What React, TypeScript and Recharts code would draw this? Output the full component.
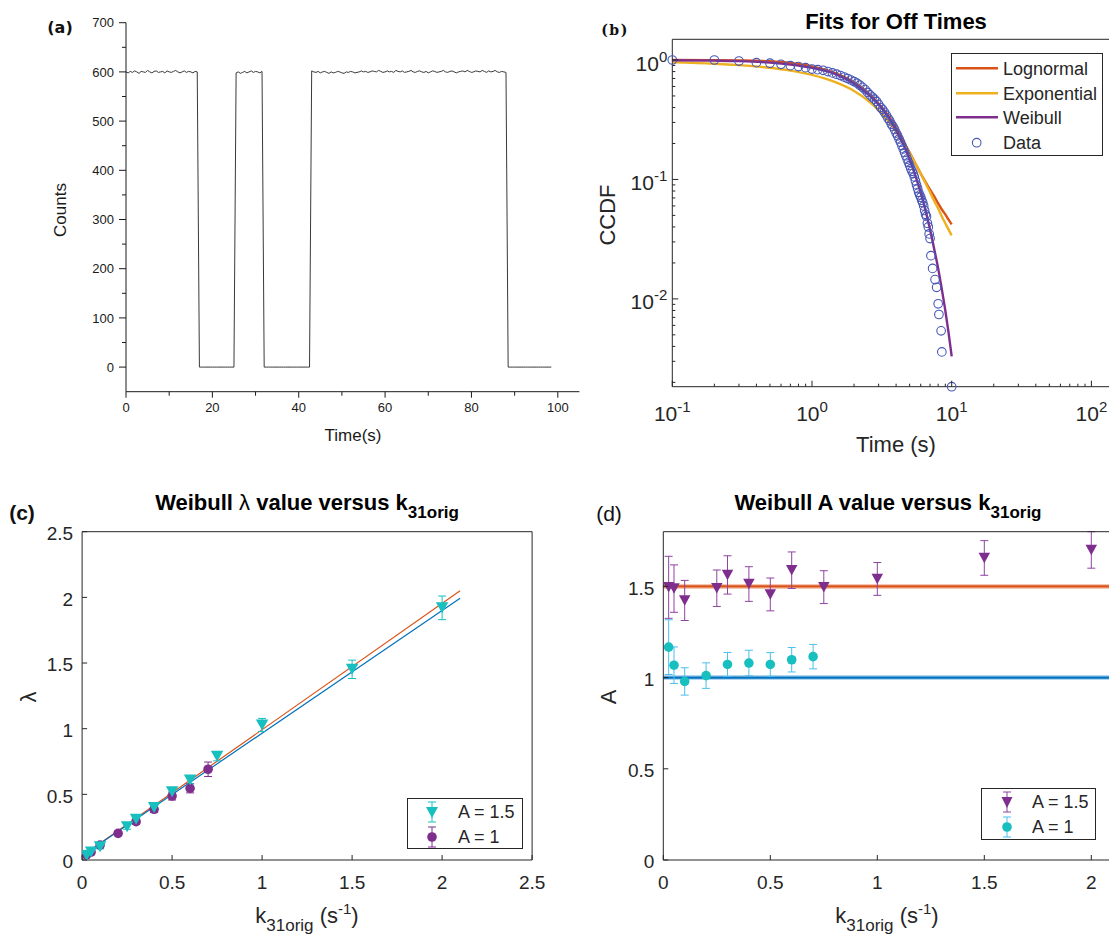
import React from "react";
import { ComposedChart, Line, Scatter, XAxis, YAxis, ErrorBar, ReferenceLine } from "recharts";

const SANS = '"Liberation Sans", Arial, Helvetica, sans-serif';
const INK = "#262626";

// ---------- (a) intensity trace, one sample every 0.5 s ----------
const SAMPLE_DT = 0.5;
const traceCounts = [
  600, 598, 601, 599, 602, 600, 597, 601, 600, 599,
  603, 600, 598, 601, 602, 599, 600, 601, 598, 602,
  600, 599, 601, 603, 600, 598, 600, 602, 599, 601,
  600, 598, 601, 600,
  0, 0, 0, 0, 0, 0, 0, 0, 0, 0, 0, 0, 0, 0, 0, 0, 0,
  598, 600, 597, 599, 601, 598, 600, 602, 599, 601, 600, 598, 601,
  0, 0, 0, 0, 0, 0, 0, 0, 0, 0, 0, 0, 0, 0, 0, 0, 0, 0, 0, 0, 0, 0,
  602, 600, 599, 601, 598, 600, 601, 599, 597, 600,
  598, 599, 601, 600, 598, 597, 600, 599, 601, 600,
  598, 599, 600, 602, 600, 601, 599, 600, 602, 601,
  600, 603, 601, 599, 600, 602, 600, 601, 599, 603,
  601, 600, 602, 599, 600, 601, 603, 600, 599, 601,
  602, 600, 599, 601, 598, 600, 602, 601, 599, 600,
  601, 603, 600, 599, 601, 602, 600, 598, 600, 601,
  602, 600, 603, 601, 599, 600, 602, 601, 600, 603,
  601, 599, 602, 600, 601, 603, 600, 599, 601, 600,
  599,
  0, 0, 0, 0, 0, 0, 0, 0, 0, 0, 0, 0, 0, 0, 0, 0, 0, 0, 0, 0, 0,
];
const traceXTicks = [0, 10, 20, 30, 40, 50, 60, 70, 80, 90, 100];
const traceYTicks = [0, 50, 100, 150, 200, 250, 300, 350, 400, 450, 500, 550, 600, 650, 700];

// ---------- (b) CCDF of off times ----------
const ccdfTimes = [
  0.1, 0.2, 0.3, 0.4, 0.5, 0.6, 0.7, 0.8, 0.9, 1.0,
  1.1, 1.2, 1.3, 1.4, 1.5, 1.6, 1.7, 1.8, 1.9, 2.0,
  2.1, 2.2, 2.3, 2.4, 2.5, 2.6, 2.7, 2.8, 2.9, 3.0,
  3.1, 3.2, 3.3, 3.4, 3.5, 3.6, 3.7, 3.8, 3.9, 4.0,
  4.1, 4.2, 4.3, 4.4, 4.5, 4.6, 4.7, 4.8, 4.9, 5.0,
  5.1, 5.2, 5.3, 5.4, 5.5, 5.6, 5.7, 5.8, 5.9, 6.0,
  6.1, 6.2, 6.3, 6.4, 6.5, 6.6, 6.7, 6.8, 6.9, 7.0,
  7.1, 7.3, 7.6, 7.8, 8.0, 8.1, 8.4, 8.5, 10,
];
const ccdfValues = [
  1.0, 1.0, 0.98, 0.95, 0.94, 0.92, 0.896, 0.88, 0.862, 0.84,
  0.83, 0.82, 0.8, 0.78, 0.76, 0.74, 0.72, 0.7, 0.68, 0.66,
  0.64, 0.615, 0.59, 0.565, 0.535, 0.51, 0.49, 0.47, 0.45, 0.425,
  0.4, 0.385, 0.365, 0.345, 0.325, 0.31, 0.29, 0.278, 0.262, 0.245,
  0.232, 0.218, 0.205, 0.192, 0.18, 0.168, 0.158, 0.148, 0.139, 0.131,
  0.123, 0.117, 0.112, 0.105, 0.097, 0.09, 0.084, 0.078, 0.074, 0.071,
  0.067, 0.064, 0.06, 0.055, 0.051, 0.049, 0.043, 0.04, 0.035, 0.032,
  0.023, 0.018, 0.0145, 0.0125, 0.0091, 0.0074, 0.0054, 0.0036, 0.00184,
];
const fitTimes = [0.1, 0.2, 0.3, 0.5, 0.7, 1, 1.5, 2, 2.5, 3, 3.5, 4, 4.5, 5, 5.5, 6, 6.5, 7, 7.5, 8, 8.5, 9, 9.5, 10];
const lognormalFit = [1.0, 0.998, 0.993, 0.975, 0.945, 0.885, 0.77, 0.65, 0.535, 0.43, 0.345, 0.27, 0.21, 0.168, 0.136, 0.112, 0.095, 0.082, 0.072, 0.063, 0.056, 0.051, 0.046, 0.042];
const exponentialFit = [0.955, 0.93, 0.905, 0.86, 0.815, 0.75, 0.645, 0.55, 0.46, 0.38, 0.31, 0.25, 0.2, 0.165, 0.135, 0.112, 0.093, 0.078, 0.066, 0.057, 0.049, 0.043, 0.038, 0.034];
const weibullFit = [0.996, 0.988, 0.978, 0.95, 0.915, 0.858, 0.755, 0.634, 0.52, 0.423, 0.335, 0.259, 0.197, 0.147, 0.107, 0.0775, 0.055, 0.038, 0.026, 0.018, 0.012, 0.008, 0.0052, 0.0033];
// the axes run on past the right edge of the figure; only ticks that show are listed
const logXTicks = [
  0.1, 0.2, 0.3, 0.4, 0.5, 0.6, 0.7, 0.8, 0.9, 1, 2, 3, 4, 5, 6, 7, 8, 9,
  10, 20, 30, 40, 50, 60, 70, 80, 90, 100,
];
const logYTicks = [
  0.002, 0.003, 0.004, 0.005, 0.006, 0.007, 0.008, 0.009, 0.01,
  0.02, 0.03, 0.04, 0.05, 0.06, 0.07, 0.08, 0.09, 0.1,
  0.2, 0.3, 0.4, 0.5, 0.6, 0.7, 0.8, 0.9, 1,
];

// ---------- (c) Weibull lambda vs k31orig ----------
const kA15 = [0.025, 0.05, 0.1, 0.25, 0.3, 0.4, 0.5, 0.6, 0.75, 1, 1.5, 2];
const lambdaA15 = [0.035, 0.06, 0.1, 0.254, 0.31, 0.4, 0.52, 0.609, 0.79, 1.028, 1.452, 1.92];
const lambdaA15Err = [0.01, 0.012, 0.015, 0.02, 0.022, 0.025, 0.03, 0.03, 0.035, 0.05, 0.07, 0.09];
const kA1 = [0.025, 0.05, 0.1, 0.2, 0.3, 0.4, 0.5, 0.6, 0.7];
const lambdaA1 = [0.04, 0.06, 0.114, 0.203, 0.292, 0.386, 0.487, 0.546, 0.691];
const lambdaA1Err = [0.01, 0.012, 0.015, 0.018, 0.02, 0.025, 0.03, 0.035, 0.055];
const lambdaFitK = [0.025, 2.1];
const lambdaFitOrange = [0.055, 2.05];
const lambdaFitBlue = [0.055, 1.993];
const linTicks = [0, 0.5, 1, 1.5, 2, 2.5];

// ---------- (d) Weibull A vs k31orig ----------
const shapeA15 = [1.495, 1.488, 1.423, 1.49, 1.563, 1.513, 1.456, 1.589, 1.496, 1.541, 1.656, 1.7];
const shapeA15Err = [0.17, 0.13, 0.11, 0.1, 0.105, 0.095, 0.09, 0.1, 0.09, 0.09, 0.095, 0.1];
const shapeA1 = [1.167, 1.068, 0.979, 1.011, 1.072, 1.08, 1.072, 1.098, 1.115];
const shapeA1Err = [0.15, 0.1, 0.075, 0.07, 0.066, 0.07, 0.065, 0.067, 0.067];
const trueShapes = [1.5, 1];
const shapeXTicks = [0, 0.5, 1, 1.5, 2];
const shapeYTicks = [0, 0.5, 1, 1.5];

const C_ORANGE = "#D95319";
const C_YELLOW = "#EDB120";
const C_PURPLE = "#7E2F8E";
const C_BLUE = "#0072BD";
const C_CYAN = "#17BFBF";
const C_DATA = "#4656B4";

const zip = (xs: number[], ys: number[], es?: number[]) =>
  xs.map((x, i) => (es ? { x, y: ys[i], err: es[i] } : { x, y: ys[i] }));

type Box = { x: number; y: number; w: number; h: number };
type Plot = { l: number; t: number; r: number; b: number };
// axes are 1px thick bands (recharts skips zero-size axes), so take them off the margins
const mg = (box: Box, p: Plot, framed: boolean) => ({
  left: p.l - box.x - 1,
  top: p.t - box.y - (framed ? 1 : 0),
  right: box.x + box.w - p.r - (framed ? 1 : 0),
  bottom: box.y + box.h - p.b - 1,
});

type Side = "bottom" | "left" | "top" | "right";
type TickSpec = {
  side: Side;
  inward: boolean;
  len: number;
  minorLen?: number;
  isMajor?: (v: number) => boolean;
  format?: (v: number) => React.ReactNode;
  gap?: number;
  dy?: number;
  fontSize?: number;
  color?: string;
};

function makeTick(s: TickSpec) {
  return (props: any) => {
    const x = Number(props.x);
    const y = Number(props.y);
    const v = Number(props.payload?.value);
    const major = s.isMajor ? s.isMajor(v) : true;
    const len = major ? s.len : s.minorLen ?? s.len / 2;
    const sign = s.inward ? -1 : 1;
    const col = s.color ?? INK;
    let x2 = x;
    let y2 = y;
    if (s.side === "bottom") y2 = y + sign * len;
    else if (s.side === "top") y2 = y - sign * len;
    else if (s.side === "left") x2 = x - sign * len;
    else x2 = x + sign * len;
    const fs = s.fontSize ?? 19;
    const gap = s.gap ?? 8;
    const label = major && s.format ? s.format(v) : null;
    return (
      <g>
        <line x1={x} y1={y} x2={x2} y2={y2} stroke={col} strokeWidth={1} />
        {label !== null && s.side === "bottom" && (
          <text x={x} y={y + gap + fs * 0.72 + (s.dy ?? 0)} textAnchor="middle" fontSize={fs} fontFamily={SANS} fill={col}>
            {label}
          </text>
        )}
        {label !== null && s.side === "left" && (
          <text x={x - gap} y={y + fs * 0.36 + (s.dy ?? 0)} textAnchor="end" fontSize={fs} fontFamily={SANS} fill={col}>
            {label}
          </text>
        )}
      </g>
    );
  };
}

const isDecade = (v: number) => Math.abs(Math.log10(v) - Math.round(Math.log10(v))) < 1e-6;
const powerLabel = (v: number) => [
  <tspan key="b">10</tspan>,
  <tspan key="e" dy={-9} fontSize={15}>
    {Math.round(Math.log10(v))}
  </tspan>,
];
const plain = (v: number) => String(v);

const ring = (p: any) => <circle cx={p.cx} cy={p.cy} r={4.3} fill="none" stroke={C_DATA} strokeWidth={1.1} />;
const disc = (color: string, r: number) => (p: any) => <circle cx={p.cx} cy={p.cy} r={r} fill={color} />;
const triDown = (color: string, w: number, h: number) => (p: any) => (
  <path d={`M${p.cx - w / 2},${p.cy - h / 2}L${p.cx + w / 2},${p.cy - h / 2}L${p.cx},${p.cy + h / 2}Z`} fill={color} />
);

const axisBits = { tickLine: false, tickSize: 0, tickMargin: 0, interval: 0 as const };

// ---------- panel (a) ----------
const boxA: Box = { x: 0, y: 0, w: 600, h: 470 };
const plotA: Plot = { l: 126, t: 22.7, r: 579.4, b: 391.7 };
const traceData = traceCounts.map((c, i) => ({ x: i * SAMPLE_DT, y: c }));

function PanelA() {
  const ax = "#1a1a1a";
  return (
    <div style={{ position: "absolute", left: boxA.x, top: boxA.y }}>
      <ComposedChart width={boxA.w} height={boxA.h} margin={mg(boxA, plotA, false)}>
        <XAxis type="number" dataKey="x" domain={[0, 105]} ticks={traceXTicks} height={1} {...axisBits}
          axisLine={{ stroke: ax, strokeWidth: 1 }}
          tick={makeTick({ side: "bottom", inward: false, len: 6, minorLen: 4, isMajor: (v) => v % 20 === 0, format: plain, gap: 11, fontSize: 13, color: ax })} />
        <YAxis type="number" dataKey="y" domain={[-50, 700]} ticks={traceYTicks} width={1} {...axisBits}
          axisLine={{ stroke: ax, strokeWidth: 1 }}
          tick={makeTick({ side: "left", inward: false, len: 7, minorLen: 4, isMajor: (v) => v % 100 === 0, format: plain, gap: 12, fontSize: 13, color: ax })} />
        <Line data={traceData} dataKey="y" type="linear" stroke="#3a3a3a" strokeWidth={1} dot={false} isAnimationActive={false} />
      </ComposedChart>
    </div>
  );
}

// ---------- panel (b) ----------
const boxB: Box = { x: 590, y: 0, w: 660, h: 470 };
const plotB: Plot = { l: 672.3, t: 39.3, r: 1231.1, b: 386.7 };
const ccdfData = zip(ccdfTimes, ccdfValues);
const lognormalData = zip(fitTimes, lognormalFit);
const exponentialData = zip(fitTimes, exponentialFit);
const weibullData = zip(fitTimes, weibullFit);

function PanelB() {
  const xDom: [number, number] = [0.1, 1000];
  const yDom: [number, number] = [0.00184, 1.49];
  return (
    <div style={{ position: "absolute", left: boxB.x, top: boxB.y }}>
      <ComposedChart width={boxB.w} height={boxB.h} margin={mg(boxB, plotB, true)}>
        <XAxis type="number" dataKey="x" scale="log" domain={xDom} ticks={logXTicks} height={1} {...axisBits}
          axisLine={{ stroke: INK }}
          tick={makeTick({ side: "bottom", inward: true, len: 6, minorLen: 3, isMajor: isDecade, format: powerLabel, gap: 19, fontSize: 21 })} />
        <XAxis xAxisId="top" orientation="top" type="number" dataKey="x" scale="log" domain={xDom} ticks={logXTicks} height={1} {...axisBits}
          axisLine={{ stroke: INK }}
          tick={makeTick({ side: "top", inward: true, len: 6, minorLen: 3, isMajor: isDecade })} />
        <YAxis type="number" dataKey="y" scale="log" domain={yDom} ticks={logYTicks} width={1} {...axisBits}
          axisLine={{ stroke: INK }}
          tick={makeTick({ side: "left", inward: true, len: 6, minorLen: 3, isMajor: isDecade, format: powerLabel, gap: 5, dy: 3, fontSize: 21 })} />
        <YAxis yAxisId="right" orientation="right" type="number" dataKey="y" scale="log" domain={yDom} ticks={logYTicks} width={1} {...axisBits}
          axisLine={{ stroke: INK }}
          tick={makeTick({ side: "right", inward: true, len: 6, minorLen: 3, isMajor: isDecade })} />
        <Line data={lognormalData} dataKey="y" type="monotone" stroke={C_ORANGE} strokeWidth={2.4} dot={false} isAnimationActive={false} />
        <Line data={exponentialData} dataKey="y" type="monotone" stroke={C_YELLOW} strokeWidth={2.4} dot={false} isAnimationActive={false} />
        <Line data={weibullData} dataKey="y" type="monotone" stroke={C_PURPLE} strokeWidth={2.4} dot={false} isAnimationActive={false} />
        <Scatter data={ccdfData} shape={ring} isAnimationActive={false} />
      </ComposedChart>
    </div>
  );
}

// ---------- panel (c) ----------
const boxC: Box = { x: 0, y: 470, w: 560, h: 469 };
const plotC: Plot = { l: 82.1, t: 531.7, r: 532.1, b: 860 };
const lamA15Data = zip(kA15, lambdaA15, lambdaA15Err);
const lamA1Data = zip(kA1, lambdaA1, lambdaA1Err);
const lamFitOrangeData = zip(lambdaFitK, lambdaFitOrange);
const lamFitBlueData = zip(lambdaFitK, lambdaFitBlue);

function PanelC() {
  const dom: [number, number] = [0, 2.5];
  return (
    <div style={{ position: "absolute", left: boxC.x, top: boxC.y }}>
      <ComposedChart width={boxC.w} height={boxC.h} margin={mg(boxC, plotC, true)}>
        <XAxis type="number" dataKey="x" domain={dom} ticks={linTicks} height={1} allowDataOverflow {...axisBits}
          axisLine={{ stroke: INK }}
          tick={makeTick({ side: "bottom", inward: true, len: 5, format: plain, gap: 15, fontSize: 19 })} />
        <XAxis xAxisId="top" orientation="top" type="number" dataKey="x" domain={dom} ticks={linTicks} height={1} {...axisBits}
          axisLine={{ stroke: INK }}
          tick={makeTick({ side: "top", inward: true, len: 5 })} />
        <YAxis type="number" dataKey="y" domain={dom} ticks={linTicks} width={1} allowDataOverflow {...axisBits}
          axisLine={{ stroke: INK }}
          tick={makeTick({ side: "left", inward: true, len: 5, format: plain, gap: 9, dy: 1.5, fontSize: 19 })} />
        <YAxis yAxisId="right" orientation="right" type="number" dataKey="y" domain={dom} ticks={linTicks} width={1} {...axisBits}
          axisLine={{ stroke: INK }}
          tick={makeTick({ side: "right", inward: true, len: 5 })} />
        <Line data={lamFitOrangeData} dataKey="y" type="linear" stroke={C_ORANGE} strokeWidth={1.2} dot={false} isAnimationActive={false} />
        <Line data={lamFitBlueData} dataKey="y" type="linear" stroke={C_BLUE} strokeWidth={1.2} dot={false} isAnimationActive={false} />
        <Scatter data={lamA1Data} shape={disc(C_PURPLE, 4.8)} isAnimationActive={false}>
          <ErrorBar dataKey="err" direction="y" width={4} stroke={C_PURPLE} strokeWidth={1} />
        </Scatter>
        <Scatter data={lamA15Data} shape={triDown(C_CYAN, 12.5, 11)} isAnimationActive={false}>
          <ErrorBar dataKey="err" direction="y" width={4} stroke={C_CYAN} strokeWidth={1} />
        </Scatter>
      </ComposedChart>
    </div>
  );
}

// ---------- panel (d) ----------
const boxD: Box = { x: 560, y: 470, w: 680, h: 469 };
const plotD: Plot = { l: 663.3, t: 531.7, r: 1198.3, b: 860 };
const shapeA15Data = zip(kA15, shapeA15, shapeA15Err);
const shapeA1Data = zip(kA1, shapeA1, shapeA1Err);

function PanelD() {
  const xDom: [number, number] = [0, 2.5];
  const yDom: [number, number] = [0, 1.8];
  return (
    <div style={{ position: "absolute", left: boxD.x, top: boxD.y }}>
      <ComposedChart width={boxD.w} height={boxD.h} margin={mg(boxD, plotD, true)}>
        <XAxis type="number" dataKey="x" domain={xDom} ticks={shapeXTicks} height={1} allowDataOverflow {...axisBits}
          axisLine={{ stroke: INK }}
          tick={makeTick({ side: "bottom", inward: true, len: 5, format: plain, gap: 15, fontSize: 19 })} />
        <XAxis xAxisId="top" orientation="top" type="number" dataKey="x" domain={xDom} ticks={shapeXTicks} height={1} {...axisBits}
          axisLine={{ stroke: INK }}
          tick={makeTick({ side: "top", inward: true, len: 5 })} />
        <YAxis type="number" dataKey="y" domain={yDom} ticks={shapeYTicks} width={1} allowDataOverflow {...axisBits}
          axisLine={{ stroke: INK }}
          tick={makeTick({ side: "left", inward: true, len: 5, format: plain, gap: 9, dy: 1.5, fontSize: 19 })} />
        <YAxis yAxisId="right" orientation="right" type="number" dataKey="y" domain={yDom} ticks={shapeYTicks} width={1} {...axisBits}
          axisLine={{ stroke: INK }}
          tick={makeTick({ side: "right", inward: true, len: 5 })} />
        <ReferenceLine y={trueShapes[0]} stroke="#F2A07E" strokeWidth={5} strokeOpacity={0.6} />
        <ReferenceLine y={trueShapes[0]} stroke={C_ORANGE} strokeWidth={2.2} />
        <ReferenceLine y={trueShapes[1]} stroke="#7DBBEA" strokeWidth={5} strokeOpacity={0.6} />
        <ReferenceLine y={trueShapes[1]} stroke={C_BLUE} strokeWidth={2.2} />
        <Scatter data={shapeA15Data} shape={triDown(C_PURPLE, 11.5, 10.5)} isAnimationActive={false}>
          <ErrorBar dataKey="err" direction="y" width={4} stroke="#8E44A0" strokeWidth={1} />
        </Scatter>
        <Scatter data={shapeA1Data} shape={disc(C_CYAN, 4.8)} isAnimationActive={false}>
          <ErrorBar dataKey="err" direction="y" width={4} stroke="#4DBEEE" strokeWidth={1} />
        </Scatter>
      </ComposedChart>
    </div>
  );
}

// ---------- text overlays ----------
function Txt(props: {
  x: number; y: number; rot?: number; size: number; weight?: number; color?: string; font?: string; spacing?: number; children: React.ReactNode;
}) {
  const { x, y, rot, size, weight, color, font, spacing, children } = props;
  return (
    <div
      style={{
        position: "absolute", left: x, top: y,
        transform: `translate(-50%, -50%)${rot ? ` rotate(${rot}deg)` : ""}`,
        fontFamily: font ?? SANS, fontSize: size, fontWeight: weight ?? 400, color: color ?? INK,
        lineHeight: 1, whiteSpace: "nowrap", letterSpacing: spacing,
      }}
    >
      {children}
    </div>
  );
}

const Sub = ({ size, children }: { size: number; children: React.ReactNode }) => (
  <span style={{ fontSize: size, position: "relative", top: size * 0.45 }}>{children}</span>
);
const Sup = ({ size, children }: { size: number; children: React.ReactNode }) => (
  <span style={{ fontSize: size, position: "relative", top: -size * 0.6 }}>{children}</span>
);

function LegendBox({ l, t, w, h }: { l: number; t: number; w: number; h: number }) {
  return (
    <div style={{ position: "absolute", left: l, top: t, width: w, height: h, border: `1px solid ${INK}`, background: "#fff", boxSizing: "border-box" }} />
  );
}

function LegendText({ x, y, size, children }: { x: number; y: number; size: number; children: React.ReactNode }) {
  return (
    <div style={{ position: "absolute", left: x, top: y, transform: "translateY(-50%)", fontFamily: SANS, fontSize: size, color: INK, lineHeight: 1, whiteSpace: "nowrap" }}>
      {children}
    </div>
  );
}

function Icon({ x, y, children }: { x: number; y: number; children: React.ReactNode }) {
  return (
    <svg width={40} height={30} viewBox="-20 -15 40 30" style={{ position: "absolute", left: x - 20, top: y - 15 }}>
      {children}
    </svg>
  );
}

const barIcon = (color: string) => (
  <g stroke={color} strokeWidth={1}>
    <line x1={0} y1={-10} x2={0} y2={10} />
    <line x1={-4} y1={-10} x2={4} y2={-10} />
    <line x1={-4} y1={10} x2={4} y2={10} />
  </g>
);

function Overlays() {
  return (
    <>
      {/* (a) */}
      <Txt x={60} y={28} size={16} weight={700} color="#111" font='"DejaVu Sans", sans-serif'>(a)</Txt>
      <Txt x={60} y={210} rot={-90} size={17} color="#1a1a1a">Counts</Txt>
      <Txt x={353} y={435} size={17} color="#1a1a1a">Time(s)</Txt>

      {/* (b) */}
      <Txt x={615} y={30} size={14} weight={700} color="#111" font='"DejaVu Serif", serif' spacing={1.5}>(b)</Txt>
      <Txt x={896} y={22} size={22} weight={700} color="#000">Fits for Off Times</Txt>
      <Txt x={608} y={215} rot={-90} size={22}>CCDF</Txt>
      <Txt x={896} y={445} size={22}>Time (s)</Txt>
      <LegendBox l={951} t={53} w={152} h={103} />
      <svg width={50} height={110} style={{ position: "absolute", left: 952, top: 54 }}>
        <line x1={4} y1={14.3} x2={46} y2={14.3} stroke={C_ORANGE} strokeWidth={2.4} />
        <line x1={4} y1={39.3} x2={46} y2={39.3} stroke={C_YELLOW} strokeWidth={2.4} />
        <line x1={4} y1={63.3} x2={46} y2={63.3} stroke={C_PURPLE} strokeWidth={2.4} />
        <circle cx={24.7} cy={88.7} r={4.3} fill="none" stroke={C_DATA} strokeWidth={1.1} />
      </svg>
      <LegendText x={1003} y={69} size={18}>Lognormal</LegendText>
      <LegendText x={1003} y={94} size={18}>Exponential</LegendText>
      <LegendText x={1003} y={118} size={18}>Weibull</LegendText>
      <LegendText x={1003} y={143} size={18}>Data</LegendText>

      {/* (c) */}
      <Txt x={22} y={512} size={21} weight={700} color="#111">(c)</Txt>
      <Txt x={307} y={503} size={22} weight={700} color="#000">
        Weibull <span style={{ fontWeight: 400 }}>λ</span> value versus k<Sub size={17}>31orig</Sub>
      </Txt>
      <Txt x={29} y={697} rot={-90} size={22}>λ</Txt>
      <Txt x={307} y={916} size={22}>
        k<Sub size={17}>31orig</Sub> (s<Sup size={15}>-1</Sup>)
      </Txt>
      <LegendBox l={406.7} t={797.7} w={116} h={51.5} />
      <Icon x={432} y={812.3}>
        {barIcon(C_CYAN)}
        <path d="M-6,-5L6,-5L0,6Z" fill={C_CYAN} />
      </Icon>
      <Icon x={432} y={837.3}>
        {barIcon(C_PURPLE)}
        <circle cx={0} cy={0} r={4.8} fill={C_PURPLE} />
      </Icon>
      <LegendText x={458} y={812.3} size={18}>A = 1.5</LegendText>
      <LegendText x={458} y={837.3} size={18}>A = 1</LegendText>

      {/* (d) */}
      <Txt x={609} y={513} size={21} color="#111">(d)</Txt>
      <Txt x={888} y={503} size={22} weight={700} color="#000">
        Weibull A value versus k<Sub size={17}>31orig</Sub>
      </Txt>
      <Txt x={609} y={697} rot={-90} size={22}>A</Txt>
      <Txt x={887} y={916} size={22}>
        k<Sub size={17}>31orig</Sub> (s<Sup size={15}>-1</Sup>)
      </Txt>
      <LegendBox l={981} t={787.5} w={115} h={52.5} />
      <Icon x={1007} y={802}>
        {barIcon("#8E44A0")}
        <path d="M-5.5,-5L5.5,-5L0,6Z" fill={C_PURPLE} />
      </Icon>
      <Icon x={1007} y={827}>
        {barIcon("#4DBEEE")}
        <circle cx={0} cy={0} r={4.8} fill={C_CYAN} />
      </Icon>
      <LegendText x={1032} y={802} size={18}>A = 1.5</LegendText>
      <LegendText x={1032} y={827} size={18}>A = 1</LegendText>
    </>
  );
}

export default function App() {
  return (
    <div style={{ position: "absolute", left: 0, top: 0, width: 1109, height: 939, overflow: "hidden", background: "#fff" }}>
      <PanelA />
      <PanelB />
      <PanelC />
      <PanelD />
      <Overlays />
    </div>
  );
}
